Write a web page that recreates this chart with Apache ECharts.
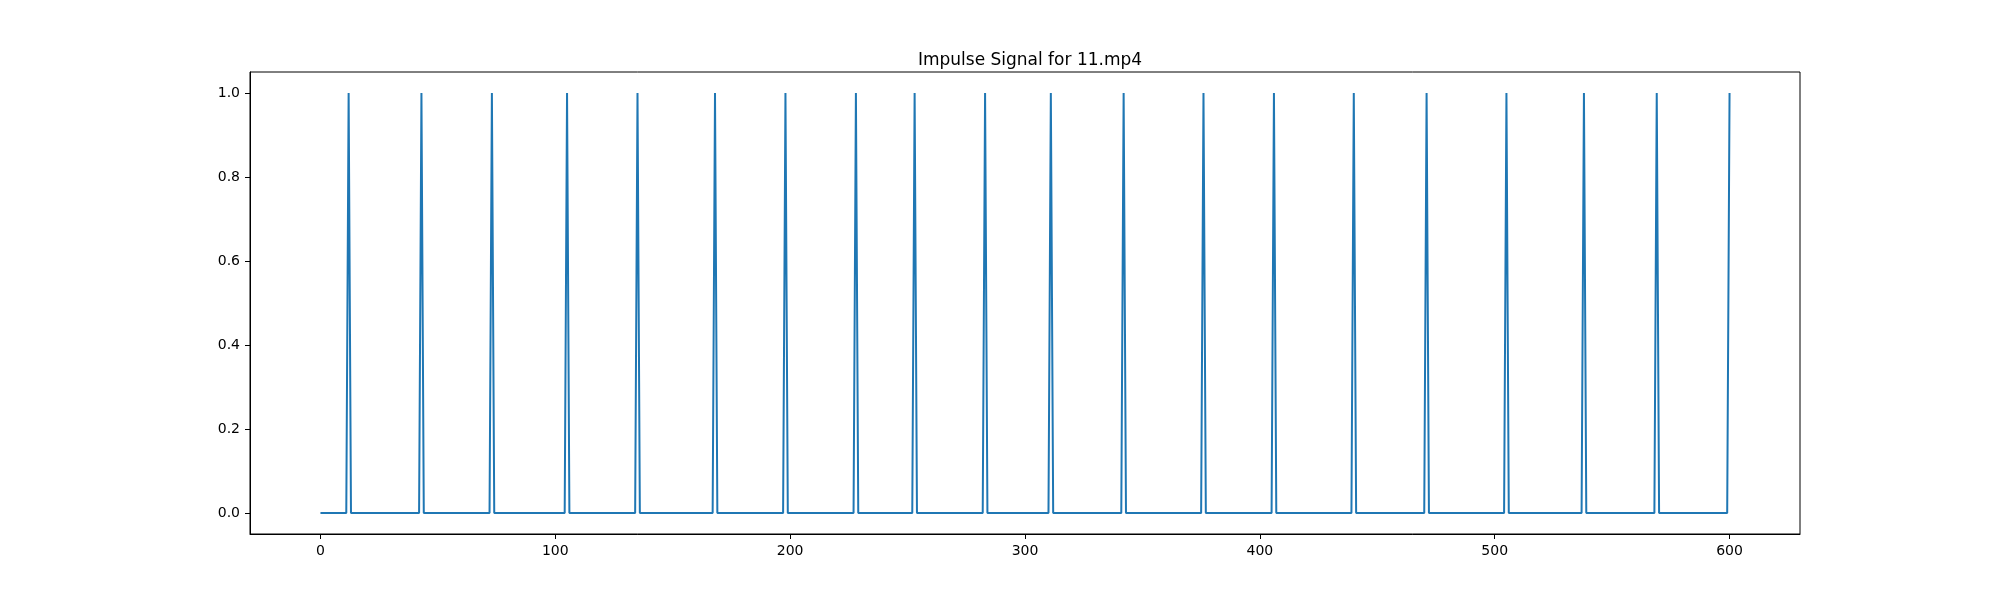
<!DOCTYPE html>
<html>
<head>
<meta charset="utf-8">
<title>Impulse Signal for 11.mp4</title>
<script src="https://cdn.jsdelivr.net/npm/echarts@6/dist/echarts.min.js"></script>
<style>
html, body {
  margin: 0;
  padding: 0;
  background-color: #FFFFFF;
}
#container-impulse {
  width: 2000px;
  height: 600px;
}
</style>
</head>
<body>
<div id="container-impulse"></div>
<script>
// frames where the impulse fires (value 1), everything else is 0
const frameCount = 601
const impulseFrames = [12, 43, 73, 105, 135, 168, 198, 228, 253, 283, 311, 342, 376, 406, 440, 471, 505, 538, 569, 600]
const xTicks = [0, 100, 200, 300, 400, 500, 600]
const yTicks = [0, 0.2, 0.4, 0.6, 0.8, 1.0]

const signal = []
for (let i = 0; i < frameCount; i++) {
  signal.push([i, impulseFrames.includes(i) ? 1 : 0])
}

var chartDom = document.getElementById('container-impulse')
var myChart = echarts.init(chartDom)
var option

const font = 'DejaVu Sans'

option = {
  backgroundColor: '#FFFFFF',
  animation: false,
  title: {
    text: 'Impulse Signal for 11.mp4',
    left: 1025,
    textAlign: 'center',
    top: 47,
    textStyle: {
      fontFamily: font,
      fontSize: 17,
      fontWeight: 'normal',
      color: '#000000'
    }
  },
  grid: {
    left: 250,
    right: 200,
    top: 72,
    bottom: 66,
    show: true,
    borderColor: '#000000',
    borderWidth: 1,
    backgroundColor: '#FFFFFF'
  },
  xAxis: {
    type: 'value',
    min: -30,
    max: 630,
    axisLine: { show: true, onZero: false, lineStyle: { color: '#000000', width: 1 } },
    splitLine: { show: false },
    axisTick: {
      show: true,
      inside: false,
      length: 5,
      customValues: xTicks,
      lineStyle: { color: '#000000', width: 1 }
    },
    axisLabel: {
      margin: 10,
      customValues: xTicks,
      fontFamily: font,
      fontSize: 14,
      color: '#000000'
    }
  },
  yAxis: {
    type: 'value',
    min: -0.05,
    max: 1.05,
    axisLine: { show: true, onZero: false, lineStyle: { color: '#000000', width: 1 } },
    splitLine: { show: false },
    axisTick: {
      show: true,
      inside: false,
      length: 5,
      customValues: yTicks,
      lineStyle: { color: '#000000', width: 1 }
    },
    axisLabel: {
      margin: 10,
      customValues: yTicks,
      fontFamily: font,
      fontSize: 14,
      color: '#000000',
      formatter: v => v.toFixed(1)
    }
  },
  series: [
    {
      name: 'Impulse',
      type: 'line',
      data: signal,
      showSymbol: false,
      symbol: 'none',
      lineStyle: {
        color: '#1f77b4',
        width: 2
      }
    }
  ]
}
option && myChart.setOption(option)
</script>
</body>
</html>
